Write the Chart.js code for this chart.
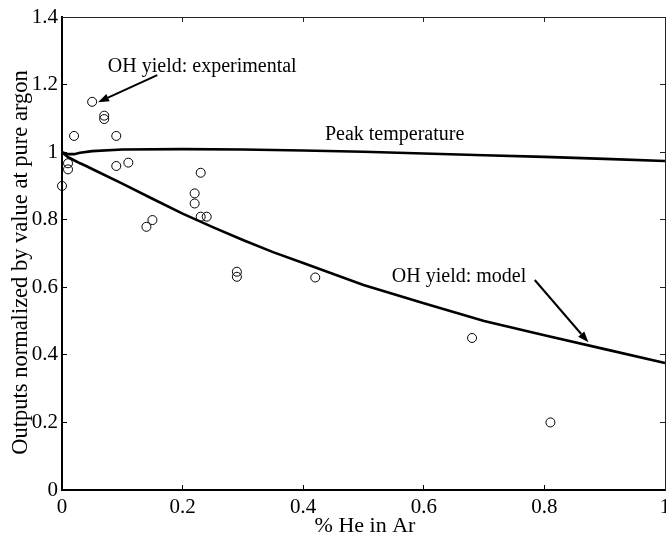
<!DOCTYPE html>
<html>
<head>
<meta charset="utf-8">
<script src="https://cdn.jsdelivr.net/npm/chart.js@4/dist/chart.umd.min.js"></script>
<style>
  html, body { margin: 0; padding: 0; background: #fff; }
  #wrap { width: 666px; height: 535px; }
</style>
</head>
<body>
<div id="wrap"><canvas id="c" width="666" height="535"></canvas></div>
<script>
// Measured OH yield, normalized to the pure-argon value
const heFractionExp = [0, 0.01, 0.01, 0.02, 0.05, 0.07, 0.07, 0.09, 0.09, 0.11, 0.14, 0.15,
                       0.22, 0.22, 0.23, 0.23, 0.24, 0.29, 0.29, 0.42, 0.68, 0.81];
const ohYieldExp = [0.90, 0.967, 0.949, 1.048, 1.149, 1.108, 1.098, 1.048, 0.959, 0.969, 0.779, 0.799,
                    0.878, 0.848, 0.939, 0.809, 0.809, 0.646, 0.631, 0.629, 0.45, 0.20];

// Model: peak temperature
const heFractionPeak = [0, 0.01, 0.02, 0.03, 0.05, 0.1, 0.2, 0.3, 0.4, 0.5, 0.6, 0.7, 0.8, 0.9, 1.0];
const peakTemperature = [1.0, 0.994, 0.994, 0.998, 1.003, 1.008, 1.009, 1.008, 1.005, 1.001, 0.996,
                         0.991, 0.986, 0.980, 0.974];

// Model: OH yield
const heFractionModel = [0, 0.01, 0.02, 0.03, 0.04, 0.05, 0.1, 0.15, 0.2, 0.25, 0.3, 0.35, 0.4,
                         0.5, 0.6, 0.7, 0.8, 0.9, 1.0];
const ohYieldModel = [1.0, 0.985, 0.976, 0.967, 0.959, 0.950, 0.907, 0.862, 0.818, 0.778, 0.740,
                      0.704, 0.672, 0.607, 0.553, 0.500, 0.458, 0.417, 0.376];

// Tick values and their labels
const xTickValues = [0, 0.2, 0.4, 0.6, 0.8, 1];
const xTickLabels = ['0', '0.2', '0.4', '0.6', '0.8', '1'];
const yTickValues = [0, 0.2, 0.4, 0.6, 0.8, 1, 1.2, 1.4];
const yTickLabels = ['0', '0.2', '0.4', '0.6', '0.8', '1', '1.2', '1.4'];

// Axis titles
const xTitle = '% He in Ar';
const yTitle = 'Outputs normalized by value at pure argon';

// Text notes and arrows, in data units
const noteTexts = ['OH yield: experimental', 'Peak temperature', 'OH yield: model'];
const noteAnchors = [[0.076, 1.237], [0.436, 1.036], [0.547, 0.6165]];
const arrowTails = [[0.158, 1.228], [0.784, 0.6215]];
const arrowHeads = [[0.0597, 1.148], [0.873, 0.437]];

const SERIF = "'Liberation Serif', 'Times New Roman', serif";

function pts(xs, ys) { return xs.map((x, i) => ({ x: x, y: ys[i] })); }
function setTicks(values) {
  return function (scale) { scale.ticks = values.map(v => ({ value: v })); };
}
function labelFor(values, labels) {
  return function (v) {
    const i = values.findIndex(t => Math.abs(t - v) < 1e-9);
    return i >= 0 ? labels[i] : '';
  };
}
// fixed box sizes for the axes; overhanging tick labels get no extra room
function fixSize(w, h) {
  return function (s) {
    if (w !== null) s.width = w;
    if (h !== null) s.height = h;
    s.paddingLeft = 0; s.paddingRight = 0; s.paddingTop = 0; s.paddingBottom = 0;
  };
}

// axis titles, text notes and arrows
const notesPlugin = {
  id: 'notes',
  afterDraw(chart) {
    const ctx = chart.ctx, xs = chart.scales.x, ys = chart.scales.y;
    const area = chart.chartArea;
    ctx.save();
    ctx.fillStyle = '#000';

    // axis titles
    ctx.textAlign = 'center';
    ctx.textBaseline = 'middle';
    ctx.font = '22px ' + SERIF;
    ctx.fillText(xTitle, (area.left + area.right) / 2 + 1.5, area.bottom + 36);
    ctx.save();
    ctx.translate(21, (area.top + area.bottom) / 2 + 9);
    ctx.rotate(-Math.PI / 2);
    ctx.font = '22.5px ' + SERIF;
    ctx.fillText(yTitle, 0, 0);
    ctx.restore();

    // notes
    ctx.font = '20px ' + SERIF;
    ctx.textAlign = 'left';
    ctx.textBaseline = 'alphabetic';
    noteTexts.forEach((t, i) => {
      ctx.fillText(t, xs.getPixelForValue(noteAnchors[i][0]), ys.getPixelForValue(noteAnchors[i][1]));
    });

    // arrows
    ctx.strokeStyle = '#000';
    ctx.lineWidth = 2;
    arrowTails.forEach((tail, i) => {
      const x0 = xs.getPixelForValue(tail[0]), y0 = ys.getPixelForValue(tail[1]);
      const x1 = xs.getPixelForValue(arrowHeads[i][0]), y1 = ys.getPixelForValue(arrowHeads[i][1]);
      const ang = Math.atan2(y1 - y0, x1 - x0);
      const len = 11, half = 4;
      const bx = x1 - len * Math.cos(ang), by = y1 - len * Math.sin(ang);
      ctx.beginPath();
      ctx.moveTo(x0, y0);
      ctx.lineTo(bx, by);
      ctx.stroke();
      ctx.beginPath();
      ctx.moveTo(x1, y1);
      ctx.lineTo(bx + half * Math.sin(ang), by - half * Math.cos(ang));
      ctx.lineTo(bx - half * Math.sin(ang), by + half * Math.cos(ang));
      ctx.closePath();
      ctx.fill();
    });
    ctx.restore();
  }
};

new Chart(document.getElementById('c'), {
  type: 'scatter',
  data: {
    datasets: [
      {
        label: 'Peak temperature',
        data: pts(heFractionPeak, peakTemperature),
        showLine: true,
        borderColor: '#000',
        borderWidth: 2.6,
        pointRadius: 0,
        tension: 0,
        fill: false
      },
      {
        label: 'OH yield: model',
        data: pts(heFractionModel, ohYieldModel),
        showLine: true,
        borderColor: '#000',
        borderWidth: 2.6,
        pointRadius: 0,
        tension: 0,
        fill: false
      },
      {
        label: 'OH yield: experimental',
        data: pts(heFractionExp, ohYieldExp),
        showLine: false,
        pointStyle: 'circle',
        pointRadius: 4.5,
        borderColor: '#000',
        backgroundColor: 'rgba(0,0,0,0)',
        borderWidth: 1
      }
    ]
  },
  options: {
    responsive: false,
    animation: false,
    devicePixelRatio: 1,
    clip: false,
    layout: { autoPadding: false, padding: { top: 17, right: 1, left: 0, bottom: 0 } },
    plugins: { legend: { display: false }, tooltip: { enabled: false } },
    scales: {
      x: {
        type: 'linear', position: 'bottom', min: 0, max: 1,
        afterBuildTicks: setTicks(xTickValues),
        afterFit: fixSize(null, 45),
        border: { display: true, color: '#000', width: 2 },
        grid: { drawOnChartArea: false, drawTicks: true, tickLength: -5, color: '#000', lineWidth: 1 },
        ticks: {
          padding: 10, color: '#000', maxRotation: 0, autoSkip: false,
          font: { family: SERIF, size: 21 },
          callback: labelFor(xTickValues, xTickLabels)
        }
      },
      y: {
        type: 'linear', position: 'left', min: 0, max: 1.4,
        afterBuildTicks: setTicks(yTickValues),
        afterFit: fixSize(62, null),
        border: { display: true, color: '#000', width: 2 },
        grid: { drawOnChartArea: false, drawTicks: true, tickLength: -5, color: '#000', lineWidth: 1 },
        ticks: {
          padding: 9, color: '#000', autoSkip: false,
          font: { family: SERIF, size: 21 },
          callback: labelFor(yTickValues, yTickLabels)
        }
      },
      x2: {
        type: 'linear', position: 'top', min: 0, max: 1,
        afterBuildTicks: setTicks(xTickValues),
        afterFit: fixSize(null, 0),
        border: { display: true, color: '#222', width: 1 },
        grid: { drawOnChartArea: false, drawTicks: true, tickLength: -5, color: '#222', lineWidth: 1 },
        ticks: { display: false }
      },
      y2: {
        type: 'linear', position: 'right', min: 0, max: 1.4,
        afterBuildTicks: setTicks(yTickValues),
        afterFit: fixSize(0, null),
        border: { display: true, color: '#222', width: 1 },
        grid: { drawOnChartArea: false, drawTicks: true, tickLength: -5, color: '#222', lineWidth: 1 },
        ticks: { display: false }
      }
    }
  },
  plugins: [notesPlugin]
});
</script>
</body>
</html>
